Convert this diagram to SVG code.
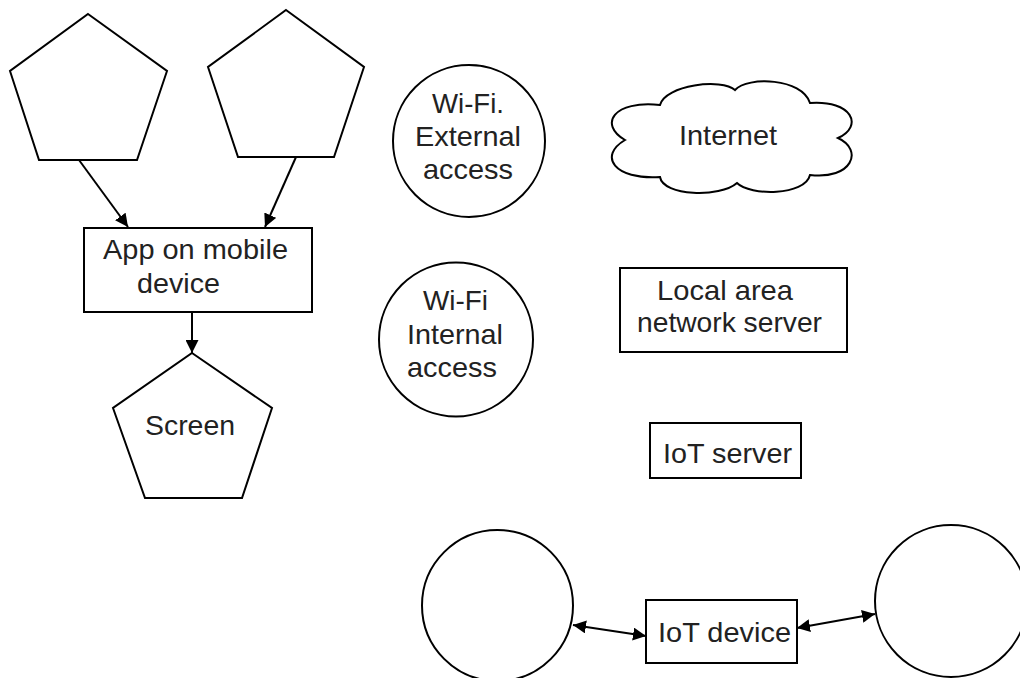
<svg xmlns="http://www.w3.org/2000/svg" width="1020" height="678" viewBox="0 0 1020 678">
<defs>
<style>
.s{fill:#fff;stroke:#000;stroke-width:2}
.t{font-family:"Liberation Sans",Arial,sans-serif;font-size:28px;fill:#222}
.c{fill:none;stroke:#000;stroke-width:2}
</style>
<marker id="ah" viewBox="0 0 12 12" refX="12" refY="6" markerWidth="13" markerHeight="13" markerUnits="userSpaceOnUse" orient="auto-start-reverse">
<path d="M0,0 L12,6 L0,12 z" fill="#000"/>
</marker>
</defs>
<rect width="1020" height="678" fill="#fff"/>
<g id="pent1"><polygon class="s" points="88,14 167,71 137,160 39,160 10,71"/></g>
<g id="pent2"><polygon class="s" points="286,10 364,67 334,157 238,157 208,67"/></g>
<g id="app"><rect class="s" x="84" y="228" width="228" height="84"/>
<text class="t" x="103" y="259" textLength="185" lengthAdjust="spacingAndGlyphs">App on mobile</text>
<text class="t" x="137" y="293" textLength="83" lengthAdjust="spacingAndGlyphs">device</text></g>
<g id="screen"><polygon class="s" points="192,353 272,408 242,498 145,498 113,408"/>
<text class="t" x="145" y="435" textLength="90" lengthAdjust="spacingAndGlyphs">Screen</text></g>
<g id="wifiext"><circle class="s" cx="469" cy="141" r="76"/>
<text class="t" x="432" y="113" textLength="72" lengthAdjust="spacingAndGlyphs">Wi-Fi.</text>
<text class="t" x="415" y="146" textLength="106" lengthAdjust="spacingAndGlyphs">External</text>
<text class="t" x="423" y="179" textLength="90" lengthAdjust="spacingAndGlyphs">access</text></g>
<g id="wifiint"><circle class="s" cx="456" cy="339.5" r="77"/>
<text class="t" x="423" y="310" textLength="65" lengthAdjust="spacingAndGlyphs">Wi-Fi</text>
<text class="t" x="407" y="344" textLength="96" lengthAdjust="spacingAndGlyphs">Internal</text>
<text class="t" x="407" y="377" textLength="90" lengthAdjust="spacingAndGlyphs">access</text></g>
<g id="internet"><path class="s" d="M660,105 C665,85 722,78 735,90 C748,76 802,78 810,103 C852,100 864,126 838,138 C864,150 852,180 810,175 C805,196 750,196 737,183 C720,198 663,196 660,177 C614,180 598,156 625,140 C598,124 614,100 660,105 Z"/>
<text class="t" x="679" y="145" textLength="98" lengthAdjust="spacingAndGlyphs">Internet</text></g>
<g id="lan"><rect class="s" x="620" y="268" width="227" height="84"/>
<text class="t" x="657" y="300" textLength="136" lengthAdjust="spacingAndGlyphs">Local area</text>
<text class="t" x="637" y="332" textLength="185" lengthAdjust="spacingAndGlyphs">network server</text></g>
<g id="iotserver"><rect class="s" x="650" y="423" width="151" height="55"/>
<text class="t" x="663" y="463" textLength="129" lengthAdjust="spacingAndGlyphs">IoT server</text></g>
<g id="circleL"><circle class="s" cx="497.5" cy="605.5" r="75.5"/></g>
<g id="iotdevice"><rect class="s" x="646" y="600" width="151" height="63"/>
<text class="t" x="658" y="642" textLength="133" lengthAdjust="spacingAndGlyphs">IoT device</text></g>
<g id="circleR"><circle class="s" cx="951" cy="601" r="76"/></g>
<g id="connectors">
<line class="c" x1="79" y1="160" x2="128" y2="227" marker-end="url(#ah)"/>
<line class="c" x1="296" y1="157" x2="265" y2="227" marker-end="url(#ah)"/>
<line class="c" x1="192" y1="312" x2="192" y2="353" marker-end="url(#ah)"/>
<line class="c" x1="573" y1="625" x2="646" y2="636" marker-start="url(#ah)" marker-end="url(#ah)"/>
<line class="c" x1="797" y1="628" x2="875" y2="614" marker-start="url(#ah)" marker-end="url(#ah)"/>
</g>
</svg>
